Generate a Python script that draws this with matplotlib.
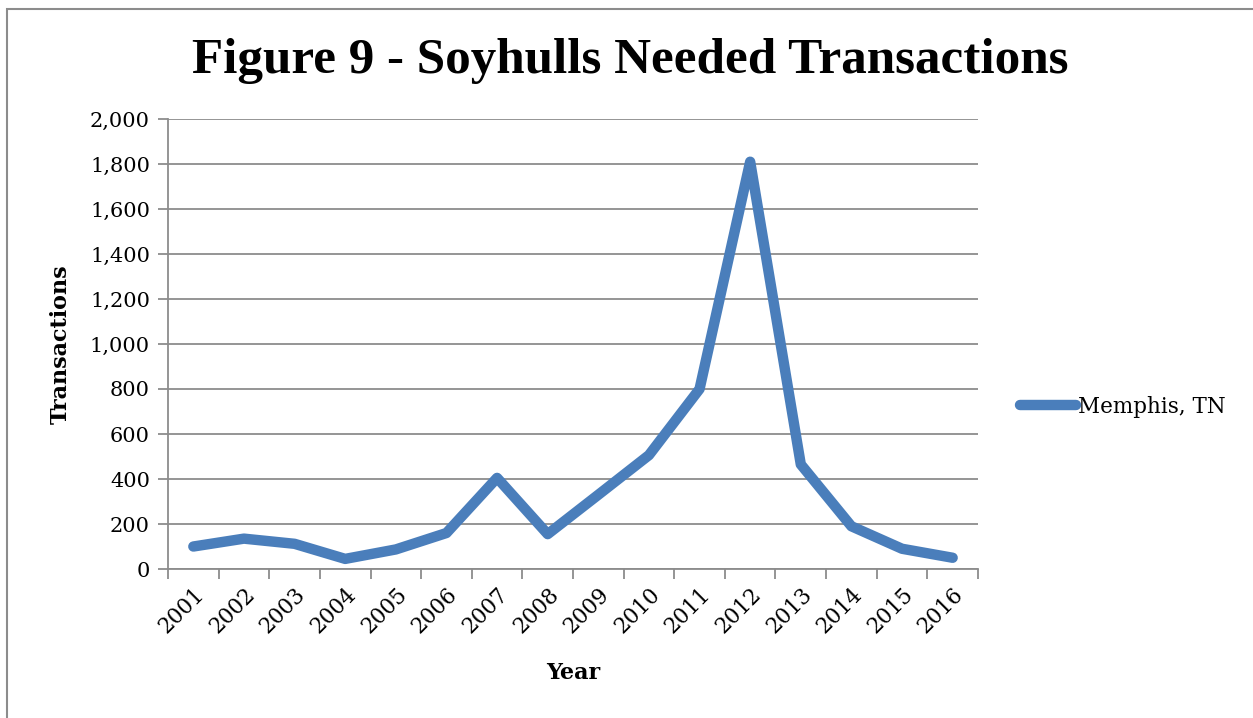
import matplotlib.pyplot as plt
from matplotlib.patches import Rectangle
from matplotlib.ticker import FuncFormatter

years = ["2001", "2002", "2003", "2004", "2005", "2006", "2007", "2008",
         "2009", "2010", "2011", "2012", "2013", "2014", "2015", "2016"]
memphis = [100, 135, 112, 45, 87, 160, 405, 155,
           330, 506, 800, 1810, 465, 190, 90, 50]

plt.rcParams["font.family"] = ["DejaVu Serif"]

fig = plt.figure(figsize=(12.53, 7.18), dpi=100)
ax = fig.add_axes([0.1341, 0.2075, 0.6464, 0.6268])

grid_color = "#8c8c8c"
x = list(range(len(years)))
ax.plot(x, memphis, color="#4a7ebb", lw=7.5, solid_capstyle="round",
        solid_joinstyle="round", label="Memphis, TN", zorder=3)

ax.set_xlim(-0.5, len(years) - 0.5)
ax.set_ylim(0, 2000)
ax.set_yticks(range(0, 2001, 200))
ax.yaxis.set_major_formatter(FuncFormatter(lambda v, p: f"{int(v):,}"))
ax.grid(axis="y", color=grid_color, lw=1.3)
ax.set_axisbelow(True)

# labels at category centres, tick marks at the boundaries
ax.set_xticks(x)
ax.set_xticklabels(years, rotation=45, ha="right", rotation_mode="anchor")
ax.set_xticks([i - 0.5 for i in range(len(years) + 1)], minor=True)
ax.tick_params(axis="x", which="major", length=0, pad=10, labelsize=15.5)
ax.tick_params(axis="x", which="minor", length=7, width=1.3, color=grid_color)
ax.tick_params(axis="y", length=7, width=1.3, color=grid_color, labelsize=15, pad=6)

for side in ("top", "right"):
    ax.spines[side].set_visible(False)
for side in ("left", "bottom"):
    ax.spines[side].set_color(grid_color)
    ax.spines[side].set_linewidth(1.3)

ax.set_xlabel("Year", fontsize=16, fontweight="bold", labelpad=18)
ax.set_ylabel("Transactions", fontsize=16, fontweight="bold", labelpad=13)

fig.text(0.503, 0.915, "Figure 9 - Soyhulls Needed Transactions",
         ha="center", va="center", fontsize=36.8, fontweight="bold",
         family="Liberation Serif")

ax.legend(loc="center left", bbox_to_anchor=(1.028, 0.36), frameon=False,
          fontsize=15.5, handlelength=2.6, handletextpad=0.1)

# outer chart border
fig.patches.append(Rectangle((7 / 1253, -0.1), 1.2, 1 - 9 / 718 + 0.1,
                             transform=fig.transFigure, fill=False,
                             edgecolor="#8c8c8c", lw=1.5))

fig.savefig("out.png", dpi=100)
